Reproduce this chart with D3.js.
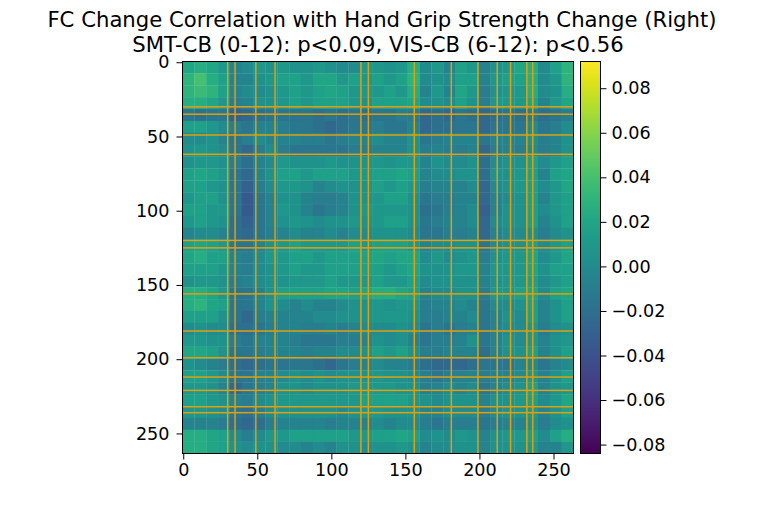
<!DOCTYPE html>
<html>
<head>
<meta charset="utf-8">
<script src="https://cdn.jsdelivr.net/npm/d3@7"></script>
<style>
	body { margin: 0; background: #fff; }
	text { font-family: "DejaVu Sans", sans-serif; fill: #000; }
</style>
</head>
<body>
<script>
const titleLines = [
	"FC Change Correlation with Hand Grip Strength Change (Right)",
	"SMT-CB (0-12): p<0.09, VIS-CB (6-12): p<0.56",
];
const matrixSize = 264;
const blockSize = 8; // reference cells per estimated block
const axisTicks = [0, 50, 100, 150, 200, 250];
const colorTicks = [-0.08, -0.06, -0.04, -0.02, 0, 0.02, 0.04, 0.06, 0.08];
const colorDomain = [-0.084, 0.092];
// the orange rows / columns
const maskedNodes = [30, 35, 49, 62, 120, 125, 156, 181, 199, 212, 221, 232, 236];

// block means, in thousandths
const blockValues = [
	[20,25,20,10,-5,0,10,5,10,5,5,10,5,0,0,10,10,5,10,25,0,10,-5,15,10,-5,5,10,20,25,0,15,30],
	[30,40,25,15,-5,-5,5,10,15,15,10,20,20,10,15,10,15,10,15,30,0,5,0,15,15,-5,10,15,15,25,0,10,30],
	[30,35,30,15,-5,0,0,5,10,15,10,15,20,15,10,10,10,15,10,25,-5,10,-5,20,10,-10,5,10,10,25,0,5,25],
	[25,25,20,10,-10,-5,5,5,10,15,10,15,15,15,10,5,15,15,15,20,0,5,0,15,5,-10,10,10,10,20,-5,10,20],
	[-15,-20,-15,-15,-30,-25,-20,-15,-15,-15,-15,-20,-15,-20,-15,-20,-15,-15,-10,-10,-25,-20,-25,-15,-20,-25,-20,-15,-20,-10,-20,-15,-10],
	[15,15,10,0,-10,-15,-5,-5,-10,-15,-15,-20,-25,-20,-15,-15,-10,-15,-15,-5,-25,-20,-20,-15,-15,-25,-15,-15,-15,0,-15,-10,0],
	[0,0,5,-5,-15,-10,0,-5,-5,-5,-10,-10,-15,-10,-5,-5,0,-5,-5,5,-15,-10,-5,-5,-5,-15,-5,-5,-5,5,-10,-5,5],
	[5,10,5,0,-15,-25,-10,0,-10,-15,-15,-15,-15,-15,-10,-10,-5,-5,-5,5,-10,-5,-10,-10,-5,-25,-10,-5,-10,0,-10,-5,5],
	[5,10,10,5,-10,-20,-5,0,10,5,5,5,10,5,5,5,10,5,10,10,-5,5,0,0,5,-20,0,5,5,15,0,10,15],
	[15,20,15,10,-15,-25,-5,5,15,15,10,15,15,15,10,10,15,15,20,15,-5,0,0,5,5,-20,5,5,10,15,-5,15,20],
	[15,15,10,5,-15,-30,-10,0,10,10,5,-5,0,5,5,5,15,10,15,10,-10,-5,-5,-5,0,-25,0,5,10,15,0,10,20],
	[10,15,15,5,-15,-35,-15,-5,5,5,-5,-10,-10,-5,5,5,10,15,15,5,-15,-10,-10,-5,-5,-25,-5,0,5,15,-5,10,15],
	[15,15,10,10,-15,-35,-15,-5,10,5,-5,-15,-10,-5,5,10,10,10,10,5,-20,-15,-10,-5,0,-30,-5,5,5,15,0,10,15],
	[10,15,10,5,-20,-30,-15,-5,5,10,5,0,5,5,10,5,10,15,15,5,-15,-10,-5,-5,0,-25,0,5,5,15,-5,5,15],
	[-5,0,0,-5,-20,-25,-15,-10,-5,0,-5,-5,0,-5,0,0,5,5,5,0,-15,-15,-10,-10,-5,-25,-5,0,0,5,-10,0,5],
	[15,20,15,10,-15,-15,-5,5,10,15,10,10,10,10,15,10,15,15,15,10,-5,0,0,5,5,-15,0,5,5,15,0,10,15],
	[20,25,15,15,-5,-10,0,10,10,15,15,10,15,15,15,15,20,15,20,20,0,10,0,5,10,-10,5,10,10,20,0,10,20],
	[15,15,15,10,-5,-10,0,5,10,15,10,10,15,15,15,15,15,10,15,20,5,5,5,10,10,-5,10,10,10,20,5,15,15],
	[5,10,10,5,-10,-5,0,5,5,10,10,10,15,10,10,10,15,10,10,15,0,5,5,5,5,-5,5,10,10,15,0,10,15],
	[25,25,20,10,-15,-15,-5,5,15,15,15,15,20,20,15,20,25,25,20,15,-5,0,0,5,5,-10,10,10,15,20,0,15,20],
	[25,30,20,15,-15,-15,-5,5,0,-5,0,-5,-5,0,5,5,10,5,10,10,-10,-5,-5,0,-5,-15,0,0,5,15,-5,5,15],
	[15,15,15,5,-15,-25,-10,-5,-5,-5,-5,0,0,5,5,5,10,10,10,5,-10,-10,-5,-5,0,-15,-5,5,0,15,-5,5,15],
	[0,5,0,0,-20,-20,-15,-10,-5,-5,-10,-10,-5,-10,-5,0,0,0,5,0,-15,-10,-15,-10,-5,-15,-5,0,0,10,-10,0,5],
	[10,10,5,5,-10,-15,-5,-5,-5,-10,-15,-15,-15,-10,-10,-5,5,0,5,-5,-15,-10,-10,-5,5,-15,-5,5,0,10,-5,5,10],
	[20,20,15,5,-15,-15,-10,-5,-5,-5,-10,-5,-5,0,0,5,15,10,15,5,-10,-10,-5,-5,-5,-20,-5,5,5,15,-5,5,15],
	[5,0,-5,-10,-20,-25,-20,-15,-15,-15,-15,-20,-25,-15,-10,-5,0,-5,-5,-10,-20,-25,-25,-25,-20,-15,-15,-15,-5,0,-15,-5,0],
	[15,15,10,0,-15,-15,-5,-5,0,5,0,5,0,5,5,5,10,5,5,0,-10,-15,-10,-5,-5,-10,-5,-5,0,10,-5,5,15],
	[10,10,5,-5,-25,-15,-10,-5,5,5,0,5,5,5,10,10,10,10,5,5,-10,-5,0,-5,0,-15,-5,0,5,15,-5,5,10],
	[15,15,10,5,-5,-10,0,5,10,10,10,10,10,10,10,15,15,15,15,10,5,0,5,5,5,-5,5,5,10,15,0,10,20],
	[10,10,5,0,-15,-20,-10,0,5,5,5,5,5,0,5,10,10,5,5,5,-5,-5,0,0,0,-10,0,5,5,10,-5,5,15],
	[-5,-5,-5,-10,-20,-25,-20,-10,-5,-5,-5,-5,-10,-5,-5,-5,0,-5,0,0,-10,-15,-10,-10,-10,-15,-10,-5,-5,5,-10,0,5],
	[25,25,20,15,0,-10,0,10,10,15,15,15,15,15,10,10,15,15,20,15,0,5,0,10,5,-5,5,10,10,15,0,15,25],
	[25,25,20,15,5,0,5,5,0,0,-5,0,-5,5,5,0,5,5,10,5,-5,0,0,5,5,-5,5,5,5,10,-5,-5,10],
];

const svg = d3.select("body").append("svg")
	.attr("width", 763)
	.attr("height", 509)
	.style("display", "block");

const x = d3.scaleLinear().domain([-0.5, matrixSize - 0.5]).range([182.5, 573.5]);
const y = d3.scaleLinear().domain([-0.5, matrixSize - 0.5]).range([61.5, 453.5]);
const color = d3.scaleSequential(d3.interpolateViridis).domain(colorDomain);
const colorY = d3.scaleLinear().domain(colorDomain).range([453.5, 61.5]);

svg.selectAll(".title")
	.data(titleLines)
	.join("text")
	.attr("class", "title")
	.attr("x", (d, i) => (i === 0 ? 382 : 378))
	.attr("y", (d, i) => 27 + i * 24.5)
	.attr("text-anchor", "middle")
	.style("font-size", "21.2px")
	.text((d) => d);

// heatmap blocks
const cells = blockValues.flatMap((row, r) => row.map((v, c) => ({ r, c, v: v / 1000 })));
svg.selectAll(".cell")
	.data(cells)
	.join("rect")
	.attr("class", "cell")
	.attr("x", (d) => x(d.c * blockSize - 0.5))
	.attr("y", (d) => y(d.r * blockSize - 0.5))
	.attr("width", x(blockSize) - x(0) + 0.3)
	.attr("height", y(blockSize) - y(0) + 0.3)
	.attr("fill", (d) => color(d.v));

// orange masked rows and columns
const maskColor = "#e0a010";
svg.selectAll(".maskRow")
	.data(maskedNodes)
	.join("rect")
	.attr("class", "maskRow")
	.attr("x", x(-0.5))
	.attr("y", (d) => y(d - 0.5))
	.attr("width", x(matrixSize - 0.5) - x(-0.5))
	.attr("height", y(1) - y(0))
	.attr("fill", maskColor);
svg.selectAll(".maskCol")
	.data(maskedNodes)
	.join("rect")
	.attr("class", "maskCol")
	.attr("x", (d) => x(d - 0.5))
	.attr("y", y(-0.5))
	.attr("width", x(1) - x(0))
	.attr("height", y(matrixSize - 0.5) - y(-0.5))
	.attr("fill", maskColor);

svg.append("rect")
	.attr("x", x.range()[0])
	.attr("y", y.range()[0])
	.attr("width", x.range()[1] - x.range()[0])
	.attr("height", y.range()[1] - y.range()[0])
	.attr("fill", "none")
	.attr("stroke", "#000");

function styleAxis(g) {
	g.select(".domain").remove();
	g.selectAll("text").style("font-size", "17.6px").attr("font-family", null);
}

svg.append("g")
	.attr("transform", "translate(0,453.5)")
	.call(d3.axisBottom(x).tickValues(axisTicks).tickFormat(d3.format("d")).tickSize(6).tickPadding(4))
	.call(styleAxis);
svg.append("g")
	.attr("transform", "translate(182.5,0)")
	.call(d3.axisLeft(y).tickValues(axisTicks).tickFormat(d3.format("d")).tickSize(6).tickPadding(7))
	.call(styleAxis);

// colorbar
const gradient = svg.append("defs").append("linearGradient")
	.attr("id", "viridisBar")
	.attr("x1", 0).attr("x2", 0).attr("y1", 1).attr("y2", 0);
gradient.selectAll("stop")
	.data(d3.range(0, 1.001, 0.05))
	.join("stop")
	.attr("offset", (d) => d)
	.attr("stop-color", (d) => d3.interpolateViridis(d));
svg.append("rect")
	.attr("x", 580.5)
	.attr("y", 61.5)
	.attr("width", 20)
	.attr("height", 392)
	.attr("fill", "url(#viridisBar)")
	.attr("stroke", "#000");
svg.append("g")
	.attr("transform", "translate(600.5,0)")
	.call(d3.axisRight(colorY).tickValues(colorTicks).tickFormat(d3.format(".2f")).tickSize(6).tickPadding(5))
	.call(styleAxis);
</script>
</body>
</html>
